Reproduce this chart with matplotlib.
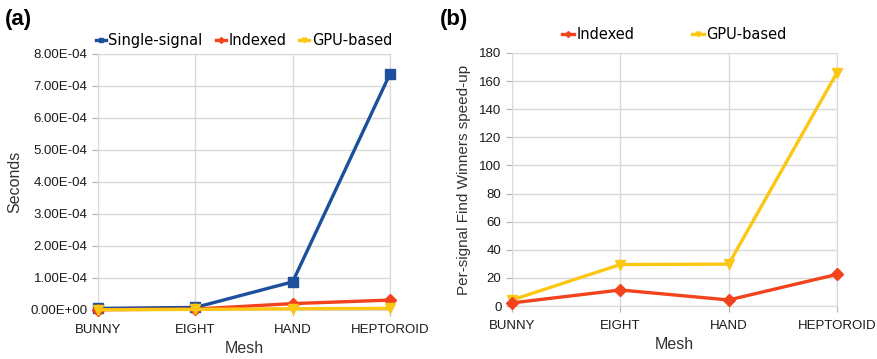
import numpy as np
import matplotlib.pyplot as plt

meshes = ["BUNNY", "EIGHT", "HAND", "HEPTOROID"]

# (a) seconds per signal
single_sec = [0.5e-5, 0.8e-5, 8.8e-5, 7.38e-4]
indexed_sec = [0.1e-5, 0.3e-5, 2.0e-5, 3.1e-5]
gpu_sec = [0.05e-5, 0.2e-5, 0.4e-5, 0.5e-5]

# (b) speed-up
indexed_up = [2.2, 11.4, 4.3, 22.5]
gpu_up = [4.3, 29.5, 29.8, 166]

blue = "#1c4f9c"
red = "#f2431c"
yellow = "#fcc713"
grid_c = "#d9d9d9"
tick_font = "Liberation Sans"

fig = plt.figure(figsize=(8.78, 3.59), dpi=100)
ax1 = fig.add_axes([0.1116, 0.1365, 0.3326, 0.7131])
ax2 = fig.add_axes([0.5831, 0.1476, 0.3702, 0.7048])

x = np.arange(len(meshes))


def style(ax, pad):
    ax.set_xlim(0, len(meshes) - 1)
    ax.grid(True, color=grid_c, linewidth=1)
    ax.set_axisbelow(True)
    for s in ax.spines.values():
        s.set_color(grid_c)
    ax.tick_params(colors="#b0b0b0", length=4, labelcolor="#1a1a1a", labelsize=9.5)
    ax.tick_params(axis="x", pad=6)
    ax.set_xticks(x)
    ax.set_xticklabels(meshes, fontfamily=tick_font)
    for lab in ax.get_yticklabels():
        lab.set_fontfamily(tick_font)
    ax.set_xlabel("Mesh", fontsize=11.5, fontfamily=tick_font, color="#333333", labelpad=pad)


ax1.plot(x, single_sec, color=blue, lw=2.4, marker="s", ms=7, label="Single-signal", clip_on=False, zorder=3)
ax1.plot(x, indexed_sec, color=red, lw=2.4, marker="D", ms=6, label="Indexed", clip_on=False, zorder=4)
ax1.plot(x, gpu_sec, color=yellow, lw=2.4, marker="v", ms=7, label="GPU-based", clip_on=False, zorder=5)
ax1.set_ylim(0, 8e-4)
ax1.set_yticks(np.arange(0, 8.01e-4, 1e-4))
ax1.set_yticklabels(["%.2fE%s" % (v / 10 ** (-4 if v else 0), "-04" if v else "+00") for v in np.arange(0, 8.01e-4, 1e-4)])
style(ax1, 4)
ax1.set_ylabel("Seconds", fontsize=11.5, fontfamily=tick_font, color="#333333", labelpad=6)
ax1.legend(loc="lower center", bbox_to_anchor=(0.5, 1.0), ncol=3, frameon=False, fontsize=10.5,
           handlelength=0.7, handletextpad=0.15, columnspacing=0.9, markerscale=0.5, borderaxespad=0)

ax2.plot(x, indexed_up, color=red, lw=2.4, marker="D", ms=6, label="Indexed", clip_on=False, zorder=4)
ax2.plot(x, gpu_up, color=yellow, lw=2.4, marker="v", ms=7, label="GPU-based", clip_on=False, zorder=3)
ax2.set_ylim(0, 180)
ax2.set_yticks(np.arange(0, 181, 20))
style(ax2, 4)
ax2.set_ylabel("Per-signal Find Winners speed-up", fontsize=11, fontfamily=tick_font, color="#333333", labelpad=6)
ax2.legend(loc="lower center", bbox_to_anchor=(0.5, 1.02), ncol=2, frameon=False, fontsize=10.5,
           handlelength=0.8, handletextpad=0.15, columnspacing=4.0, markerscale=0.5, borderaxespad=0)

fig.text(0.006, 0.93, "(a)", fontsize=16, fontweight="bold", fontfamily=tick_font)
fig.text(0.501, 0.93, "(b)", fontsize=16, fontweight="bold", fontfamily=tick_font)

fig.savefig("out.png", dpi=100)
